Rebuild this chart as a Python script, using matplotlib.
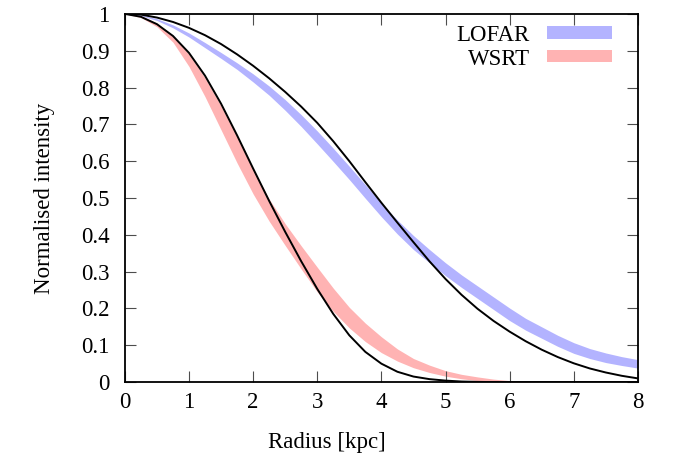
import numpy as np
import matplotlib
matplotlib.use("Agg")
import matplotlib.pyplot as plt
from matplotlib.patches import Rectangle

plt.rcParams["font.family"] = "serif"
plt.rcParams["font.serif"] = ["Liberation Serif", "DejaVu Serif"]
plt.rcParams["font.size"] = 16.5

# radius grid (kpc)
radius = [0.0, 0.25, 0.5, 0.75, 1.0, 1.25, 1.5, 1.75, 2.0, 2.25, 2.5, 2.75,
          3.0, 3.25, 3.5, 3.75, 4.0, 4.25, 4.5, 4.75, 5.0, 5.25, 5.5, 5.75,
          6.0, 6.25, 6.5, 6.75, 7.0, 7.25, 7.5, 7.75, 8.0]

# LOFAR profile band (upper / lower edge)
lofar_hi = [1.000, 0.997, 0.987, 0.970, 0.948, 0.922, 0.895, 0.867, 0.837, 0.804, 0.767, 0.726,
            0.682, 0.635, 0.586, 0.536, 0.486, 0.440, 0.398, 0.360, 0.324, 0.291, 0.261, 0.231,
            0.201, 0.173, 0.150, 0.127, 0.107, 0.091, 0.079, 0.069, 0.061]
lofar_lo = [1.000, 0.995, 0.982, 0.962, 0.937, 0.908, 0.879, 0.849, 0.815, 0.779, 0.738, 0.694,
            0.647, 0.599, 0.550, 0.499, 0.449, 0.402, 0.360, 0.324, 0.289, 0.257, 0.227, 0.197,
            0.167, 0.141, 0.119, 0.097, 0.078, 0.064, 0.053, 0.045, 0.038]

# WSRT profile band (upper / lower edge)
wsrt_hi = [1.000, 0.995, 0.975, 0.940, 0.890, 0.826, 0.750, 0.666, 0.579, 0.497, 0.430, 0.370,
           0.312, 0.255, 0.203, 0.160, 0.123, 0.090, 0.064, 0.046, 0.031, 0.021, 0.014, 0.008,
           0.004, 0.0015, 0.0, 0.0, 0.0, 0.0, 0.0, 0.0, 0.0]
wsrt_lo = [1.000, 0.990, 0.965, 0.923, 0.857, 0.775, 0.685, 0.595, 0.511, 0.437, 0.371, 0.307,
           0.245, 0.192, 0.147, 0.110, 0.080, 0.057, 0.039, 0.026, 0.016, 0.009, 0.004, 0.001,
           0.0, 0.0, 0.0, 0.0, 0.0, 0.0, 0.0, 0.0, 0.0]

# model curves (black lines)
model_lofar = [1.000, 0.998, 0.990, 0.978, 0.962, 0.942, 0.918, 0.890, 0.859, 0.825, 0.788, 0.748,
               0.704, 0.654, 0.600, 0.543, 0.487, 0.433, 0.380, 0.328, 0.280, 0.237, 0.199, 0.166,
               0.137, 0.111, 0.088, 0.068, 0.051, 0.037, 0.026, 0.017, 0.010]
model_wsrt = [1.000, 0.992, 0.972, 0.940, 0.894, 0.832, 0.756, 0.670, 0.580, 0.492, 0.408, 0.328,
              0.253, 0.185, 0.127, 0.082, 0.050, 0.028, 0.015, 0.008, 0.004, 0.0015, 0.0005, 0.0,
              0.0, 0.0, 0.0, 0.0, 0.0, 0.0, 0.0, 0.0, 0.0]

x_ticks = [0, 1, 2, 3, 4, 5, 6, 7, 8]
y_ticks = [0, 0.1, 0.2, 0.3, 0.4, 0.5, 0.6, 0.7, 0.8, 0.9, 1]
y_labels = ["0", "0.1", "0.2", "0.3", "0.4", "0.5", "0.6", "0.7", "0.8", "0.9", "1"]

c_lofar = "#b3b3ff"
c_wsrt = "#ffb3b3"

fig = plt.figure(figsize=(6.75, 4.62), dpi=100)
ax = fig.add_axes([0.185, 0.173, 0.760, 0.797])

r = np.array(radius)
ax.fill_between(r, lofar_lo, lofar_hi, color=c_lofar, lw=0, zorder=1)
ax.fill_between(r, wsrt_lo, wsrt_hi, color=c_wsrt, lw=0, zorder=1)
ax.plot(r, model_lofar, color="black", lw=1.4, zorder=3)
ax.plot(r, model_wsrt, color="black", lw=1.4, zorder=3)

ax.set_xlim(0, 8)
ax.set_ylim(0, 1)
ax.set_xticks(x_ticks)
ax.set_yticks(y_ticks)
ax.set_yticklabels(y_labels)
ax.tick_params(direction="in", length=8, width=0.8, color="0.3", top=True, right=True)
ax.tick_params(axis="x", pad=7)
ax.tick_params(axis="y", pad=11)
for s in ax.spines.values():
    s.set_linewidth(1.3)

# gnuplot puts the x label a bit left of the axes centre
ax.set_xlabel("Radius [kpc]")
ax.xaxis.set_label_coords(0.394, -0.135)
ax.set_ylabel("Normalised intensity", labelpad=19)

# gnuplot style key: label on the left, swatch on the right
for name, col, yb, ys in [("LOFAR", c_lofar, 0.925, 0.933), ("WSRT", c_wsrt, 0.861, 0.868)]:
    ax.text(0.789, yb, name, transform=ax.transAxes, ha="right", va="baseline")
    ax.add_patch(Rectangle((0.822, ys), 0.128, 0.035, transform=ax.transAxes,
                           facecolor=col, edgecolor="none", zorder=4))

fig.savefig("out.png", dpi=100)
